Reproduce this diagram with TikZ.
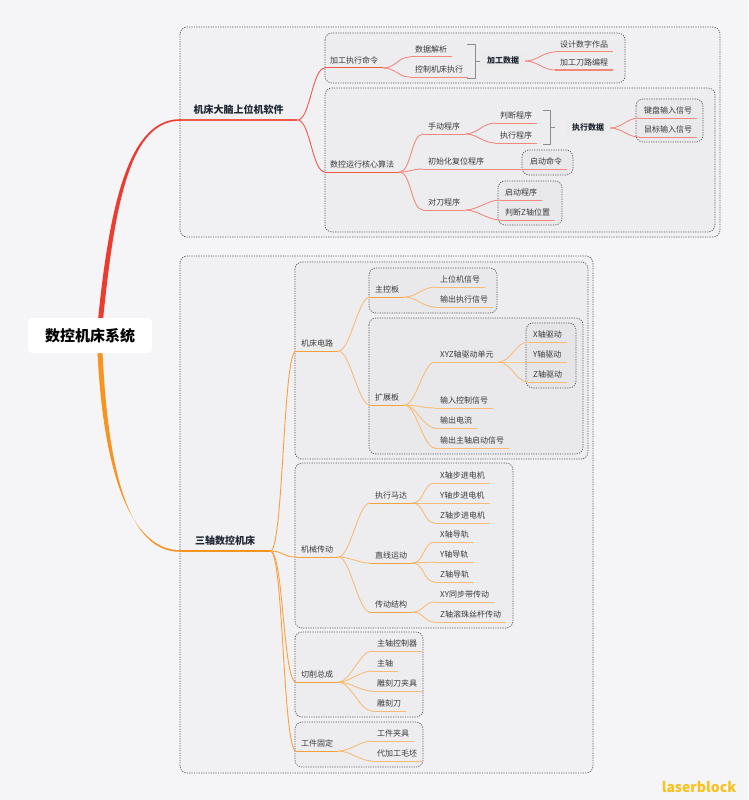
\documentclass[tikz,border=0pt]{standalone}
\usepackage{fontspec}
\setmainfont{Noto Sans CJK SC}
\definecolor{bg}{HTML}{F5F5F8}
\definecolor{ink}{HTML}{3A3A3A}
\definecolor{head}{HTML}{1F2733}
\definecolor{frame}{HTML}{5A5A5A}
\definecolor{redA}{HTML}{EE3B2F}
\definecolor{redB}{HTML}{F0584A}
\definecolor{redC}{HTML}{F2887C}
\definecolor{orgA}{HTML}{F7931E}
\definecolor{orgB}{HTML}{F8A03C}
\definecolor{orgC}{HTML}{F9BC78}
\definecolor{mark}{HTML}{F9C11C}

\begin{document}
\begin{tikzpicture}[x=1pt, y=-1pt, line join=round,
    topic/.style={font=\fontsize{8}{9.6}\selectfont, text=ink, anchor=south west,
      inner xsep=5pt, inner ysep=2.5pt, text height=6.5pt, text depth=1.5pt,
      append after command={(\tikzlastnode.south west) edge[draw=#1, line width=1pt] (\tikzlastnode.south east)}},
    branch/.style={font=\bfseries\fontsize{10}{12}\selectfont, text=head, anchor=south west,
      inner xsep=0pt, inner ysep=4pt, text height=8pt, text depth=2pt, minimum width=#1},
    summary/.style={fill=black!8, rounded corners=3pt, font=\bfseries\fontsize{8}{9.6}\selectfont,
      text=head, inner xsep=6pt, inner ysep=4pt, text height=6.5pt, text depth=1.5pt},
    group/.style={draw=frame, dash pattern=on 1.2pt off 1.2pt, line width=0.7pt,
      rounded corners=7pt, fill=black, fill opacity=0.015},
    link/.style={draw=#1, line width=0.9pt, out=0, in=180, distance=12pt},
    brace/.style={draw=black!45, line width=0.8pt}]

  \useasboundingbox[fill=bg] (0,0) rectangle (748,800);

  % dotted group frames
  \draw[group] (180,27) rectangle (720,237);    % upper software
  \draw[group] (325,33) rectangle (625,83);
  \draw[group] (325,88) rectangle (715,232);
  \draw[group] (636,99) rectangle (703,142);
  \draw[group] (522,150) rectangle (573,175);
  \draw[group] (498,181) rectangle (562,225);
  \draw[group] (180,256) rectangle (593,773);   % lower machine
  \draw[group] (295,262) rectangle (588,459);
  \draw[group] (369,268) rectangle (497,313);
  \draw[group] (369,318) rectangle (583,454);
  \draw[group] (526,323) rectangle (576,388);
  \draw[group] (295,463) rectangle (513,628);
  \draw[group] (295,632) rectangle (423,717);
  \draw[group] (295,722) rectangle (423,767);

  % main trunks
  \fill[redA] (98,320) .. controls (110,200) and (130,119.2) .. (180,119.2)
    -- (180,120.8) .. controls (131,121) and (115,200) .. (103,320) -- cycle;
  \fill[orgA] (97.5,352) .. controls (103,470) and (130,550.2) .. (180,550.2)
    -- (180,551.8) .. controls (128,552) and (108,470) .. (102.5,352) -- cycle;

  \node[fill=white, rounded corners=4pt, minimum width=124pt, minimum height=35pt,
    font=\bfseries\fontsize{15}{18}\selectfont, text=black] (root) at (90,335.5) {数控机床系统};

  % upper branch
  \node[branch=117pt] (soft) at (180,120) {机床大脑上位机软件};
  \draw[redB, line width=2pt] (soft.south west) -- (soft.south east);
  \node[topic=redB] (cmd) at (325,68) {加工执行命令};
  \node[topic=redC] (parse) at (410,57) {数据解析};
  \node[topic=redC] (ctrl) at (410,77) {控制机床执行};
  \node[summary] (data1) at (503,61) {加工数据};
  \node[topic=redC] (design) at (555,52) {设计数字作品};
  \node[topic=redC] (toolpath) at (555,70) {加工刀路编程};
  \node[topic=redB] (algo) at (325,172) {数控运行核心算法};
  \node[topic=redC] (manual) at (423,134) {手动程序};
  \node[topic=redC] (judge) at (495,123) {判断程序};
  \node[topic=redC] (exec) at (495,143) {执行程序};
  \node[summary] (data2) at (588,128) {执行数据};
  \node[topic=redC] (keyin) at (639,118) {键盘输入信号};
  \node[topic=redC] (mouse) at (639,137) {鼠标输入信号};
  \node[topic=redC] (reset) at (423,169) {初始化复位程序};
  \node[topic=redC] (startcmd) at (525,169) {启动命令};
  \node[topic=redC] (tool) at (423,210) {对刀程序};
  \node[topic=redC] (startprog) at (500,200) {启动程序};
  \node[topic=redC] (zpos) at (500,220) {判断Z轴位置};

  \draw[link=redB, distance=13pt] (soft.south east) edge (cmd.south west) edge (algo.south west);
  \draw[link=redC] (cmd.south east) edge (parse.south west) edge (ctrl.south west);
  \draw[link=redC] (data1.east) edge (design.south west) edge (toolpath.south west);
  \draw[link=redC] (algo.south east) edge (manual.south west) edge (reset.south west) edge (tool.south west);
  \draw[link=redC] (manual.south east) edge (judge.south west) edge (exec.south west);
  \draw[link=redC] (data2.east) edge (keyin.south west) edge (mouse.south west);
  \draw[link=redC] (reset.south east) -- (startcmd.south west);
  \draw[link=redC] (tool.south east) edge (startprog.south west) edge (zpos.south west);

  \draw[brace] (467,44) -- (475,44) -- (475,78) -- (467,78);
  \draw[brace] (475,61) -- ++(5,0);
  \draw[brace] (543,110) -- (550,110) -- (550,144) -- (543,144);
  \draw[brace] (550,127) -- ++(5,0);

  % lower branch
  \node[branch=90pt] (machine) at (180,551) {三轴数控机床};
  \draw[orgA, line width=2pt] (machine.south west) -- (machine.south east);
  \node[topic=orgB] (circuit) at (296,351) {机床电路};
  \node[topic=orgB] (mainboard) at (370,297) {主控板};
  \node[topic=orgC] (hostsig) at (435,287) {上位机信号};
  \node[topic=orgC] (outexec) at (435,307) {输出执行信号};
  \node[topic=orgB] (extboard) at (370,405) {扩展板};
  \node[topic=orgC] (xyzunit) at (435,362) {XYZ轴驱动单元};
  \node[topic=orgC] (xdrv) at (528,342) {X轴驱动};
  \node[topic=orgC] (ydrv) at (528,362) {Y轴驱动};
  \node[topic=orgC] (zdrv) at (528,382) {Z轴驱动};
  \node[topic=orgC] (inctrl) at (435,408) {输入控制信号};
  \node[topic=orgC] (outcur) at (435,428) {输出电流};
  \node[topic=orgC] (outspin) at (435,448) {输出主轴启动信号};

  \node[topic=orgB] (mech) at (296,557) {机械传动};
  \node[topic=orgB] (motor) at (370,503) {执行马达};
  \node[topic=orgC] (xmot) at (435,483) {X轴步进电机};
  \node[topic=orgC] (ymot) at (435,503) {Y轴步进电机};
  \node[topic=orgC] (zmot) at (435,523) {Z轴步进电机};
  \node[topic=orgB] (linear) at (370,563) {直线运动};
  \node[topic=orgC] (xrail) at (435,542) {X轴导轨};
  \node[topic=orgC] (yrail) at (435,562) {Y轴导轨};
  \node[topic=orgC] (zrail) at (435,582) {Z轴导轨};
  \node[topic=orgB] (trans) at (370,612) {传动结构};
  \node[topic=orgC] (belt) at (435,602) {XY同步带传动};
  \node[topic=orgC] (screw) at (435,622) {Z轴滚珠丝杆传动};

  \node[topic=orgB] (cut) at (296,682) {切削总成};
  \node[topic=orgC] (spctl) at (372,651) {主轴控制器};
  \node[topic=orgC] (spindle) at (372,671) {主轴};
  \node[topic=orgC] (holder) at (372,691) {雕刻刀夹具};
  \node[topic=orgC] (cutter) at (372,711) {雕刻刀};
  \node[topic=orgB] (fix) at (296,751) {工件固定};
  \node[topic=orgC] (clamp) at (372,741) {工件夹具};
  \node[topic=orgC] (blank) at (372,761) {代加工毛坯};

  \draw[link=orgB, distance=13pt] (machine.south east) edge (circuit.south west) edge (mech.south west)
    edge (cut.south west) edge (fix.south west);
  \draw[link=orgC] (circuit.south east) edge (mainboard.south west) edge (extboard.south west);
  \draw[link=orgC] (mainboard.south east) edge (hostsig.south west) edge (outexec.south west);
  \draw[link=orgC] (extboard.south east) edge (xyzunit.south west) edge (inctrl.south west)
    edge (outcur.south west) edge (outspin.south west);
  \draw[link=orgC] (xyzunit.south east) edge (xdrv.south west) edge (ydrv.south west) edge (zdrv.south west);
  \draw[link=orgC] (mech.south east) edge (motor.south west) edge (linear.south west) edge (trans.south west);
  \draw[link=orgC] (motor.south east) edge (xmot.south west) edge (ymot.south west) edge (zmot.south west);
  \draw[link=orgC] (linear.south east) edge (xrail.south west) edge (yrail.south west) edge (zrail.south west);
  \draw[link=orgC] (trans.south east) edge (belt.south west) edge (screw.south west);
  \draw[link=orgC] (cut.south east) edge (spctl.south west) edge (spindle.south west)
    edge (holder.south west) edge (cutter.south west);
  \draw[link=orgC] (fix.south east) edge (clamp.south west) edge (blank.south west);

  \node[font=\bfseries\fontsize{14}{16}\selectfont, text=mark] (brand) at (699,787) {laserblock};
\end{tikzpicture}
\end{document}
